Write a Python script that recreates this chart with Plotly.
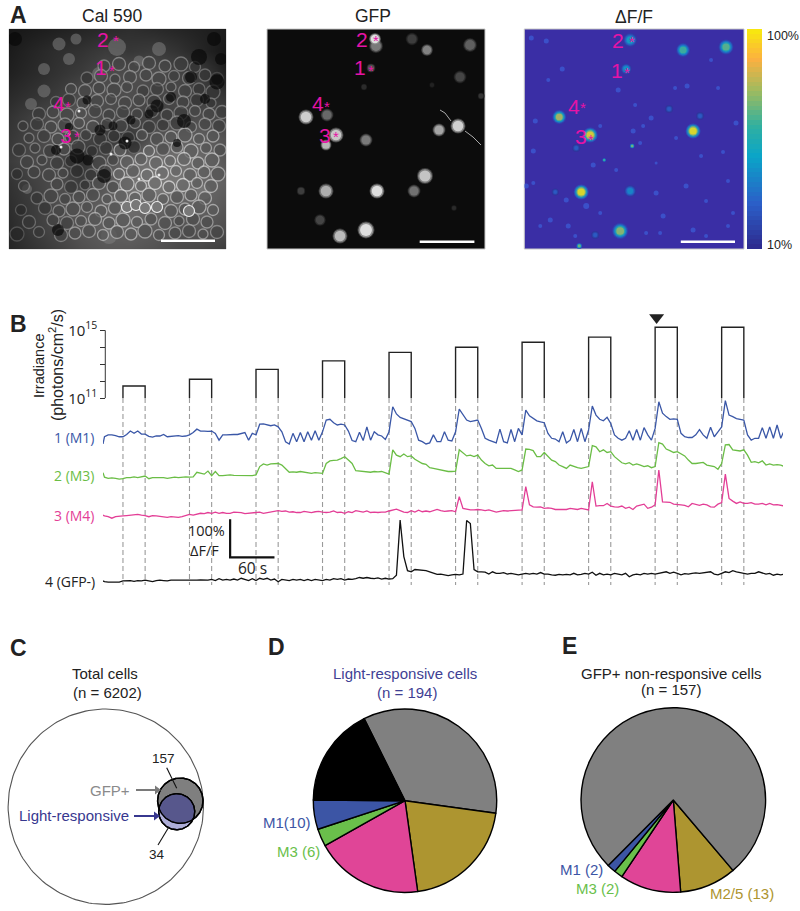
import numpy as np
import plotly.graph_objects as go

W, H = 800, 911
# ---------- Panel B data ----------
stim_on = [27, 117, 207, 297, 387, 477, 567, 657, 747, 837]
stim_len = 30
stim_log10 = [11.72, 12.12, 12.70, 13.20, 13.70, 14.00, 14.30, 14.60, 15.18, 15.18]
pre_t = [0, 2, 7, 12, 17, 22]

m1_pre = [-6, 13, 18, 18, 16, 13]
m1_cycles = [
 [13,19,28,22,28,20,20,14,12,15,15,19,13,14,15,16,14,15],
 [18,24,33,28,28,27,28,22,4,18,18,19,19,19,22,24,4,22],
 [18,46,47,44,42,44,39,26,0,-6,22,0,24,0,26,4,29,4],
 [26,57,59,50,44,46,44,28,3,0,25,3,39,4,26,18,15,6],
 [26,92,73,64,60,57,53,35,4,0,-6,-3,18,0,0,26,4,2],
 [26,86,70,57,53,55,57,35,9,4,0,-3,33,0,-3,32,0,35],
 [18,83,68,61,55,52,50,22,9,7,0,26,-3,4,32,0,35,0],
 [31,94,70,59,55,64,48,18,9,4,9,29,4,32,4,37,18,4],
 [35,105,75,66,59,60,59,22,13,11,11,18,32,18,9,38,13,26],
 [39,108,70,66,61,59,57,18,4,9,9,37,9,39,9,44,9,31],
]
m3_pre = [15, 3, 0, 1, 0, -2]
m3_cycles = [
 [-1,2,2,4,2,4,6,-1,2,2,2,2,0,2,3,2,3,4],
 [3,4,16,13,11,19,7,18,7,7,9,9,8,8,8,7,8,7],
 [9,31,38,35,38,38,39,35,24,16,17,16,18,16,15,13,15,13],
 [13,39,46,47,48,52,57,48,39,20,19,19,18,16,18,17,18,15],
 [11,75,61,57,64,57,59,50,44,39,37,28,26,24,20,18,18,18],
 [19,75,68,59,61,57,61,48,39,33,35,26,26,26,25,26,22,18],
 [22,77,76,73,57,57,68,59,48,44,35,31,26,35,31,28,26,28],
 [31,86,83,70,75,68,70,57,48,41,38,41,35,38,35,31,33,28],
 [31,94,90,77,73,68,70,64,59,48,39,39,41,42,35,33,31,24],
 [39,88,89,75,73,72,75,61,42,44,41,46,35,38,35,36,35,31],
]
m4_pre = [4, 2, 0, -4, 0, 2]
m4_cycles = [
 [2,3,4,4,6,4,3,0,3,2,0,-2,-2,0,-1,-2,0,4],
 [6,4,7,9,8,11,9,12,9,11,9,9,12,11,11,8,9,11],
 [11,12,9,11,12,15,16,14,15,12,13,11,11,14,12,11,13,14],
 [12,11,12,15,11,12,9,13,11,16,14,12,15,11,12,11,12,12],
 [15,18,20,16,12,11,16,12,17,13,15,13,16,19,16,14,15,16],
 [13,53,22,19,18,18,19,18,16,18,15,12,14,16,15,16,16,18],
 [18,79,31,26,25,26,22,23,22,19,19,20,19,22,20,19,22,19],
 [18,92,28,29,29,35,28,26,25,28,22,25,19,28,30,33,22,25],
 [31,123,39,39,38,33,33,31,30,26,35,33,30,33,31,26,25,33],
 [37,112,48,41,35,39,35,35,37,33,33,35,31,35,31,32,31,28],
]
neg_pre = [2, 0, -1, -1, 0, -1]
neg_cycles = [
 [2,2,3,1,3,2,4,2,0,3,4,3,2,4,4,3,4,4],
 [4,3,4,5,4,4,6,3,8,4,6,4,7,4,9,6,3,8],
 [3,9,6,9,4,7,0,6,4,3,6,4,6,3,6,3,6,4],
 [3,6,4,8,6,8,4,7,6,8,11,9,11,9,8,10,7,9],
 [7,8,17,162,66,29,26,32,31,29,29,26,22,19,20,18,16,18],
 [19,18,20,161,153,32,26,26,25,20,26,22,22,24,20,22,20,18],
 [20,22,20,22,20,24,20,20,18,17,19,18,19,18,22,18,19,22],
 [20,25,17,22,18,20,18,22,20,18,22,13,18,20,18,22,20,22],
 [20,22,22,26,22,25,22,18,21,20,22,23,22,24,25,26,20,18],
 [22,26,24,29,26,24,20,20,22,22,26,24,20,22,17,20,18,20],
]
trace_names = ["1 (M1)", "2 (M3)", "3 (M4)", "4 (GFP-)"]
trace_offsets = [390.3, 293.9, 192.9, 21.9]
trace_colors = ["#3a57a7", "#6abd45", "#e33e96", "#111111"]

# ---------- Panel A data (image pixel positions) ----------
cal_z = [
 [30,35,40,45,50,55,50,45,40,35],
 [35,45,55,60,70,65,70,60,45,30],
 [40,50,60,70,85,90,90,80,70,40],
 [50,60,70,90,90,90,80,85,70,60],
 [60,75,90,100,85,85,75,80,90,80],
 [65,80,95,80,70,60,100,110,110,95],
 [70,85,80,60,90,120,130,130,120,100],
 [60,75,90,70,100,130,140,135,120,110],
 [55,70,90,100,110,125,120,110,115,100],
 [50,70,85,100,110,115,105,95,100,90],
 [45,60,75,90,100,100,95,85,80,70],
]
cal_cells = [
 (95,37),(110,35),(125,38),(140,34),(156,37),(172,35),(186,38),
 (78,49),(92,47),(106,50),(121,48),(137,46),(150,50),(165,47),(180,49),(196,46),(208,50),
 (62,60),(76,62),(90,59),(105,61),(118,58),(134,62),(148,60),(162,58),(176,62),(190,60),(204,63),
 (47,73),(60,71),(74,74),(88,72),(102,70),(116,74),(130,71),(145,73),(160,70),(174,73),(188,71),(202,74),
 (30,85),(44,83),(58,86),(72,84),(86,82),(100,86),(114,83),(128,85),(143,82),(158,86),(172,84),(186,82),(200,85),(213,83),
 (14,97),(28,95),(42,98),(56,96),(70,94),(84,98),(98,95),(112,97),(126,94),(140,98),(154,96),(168,94),(182,98),(196,95),(210,97),
 (20,109),(35,107),(49,110),(63,108),(77,106),(91,110),(105,107),(119,109),(133,106),(148,110),(162,108),(176,106),(190,110),(204,107),
 (10,121),(26,119),(41,122),(55,120),(69,118),(83,122),(97,119),(111,121),(125,118),(140,122),(154,120),(168,118),(182,122),(197,119),(211,121),
 (18,133),(33,131),(48,134),(62,132),(90,134),(104,131),(118,133),(132,130),(147,134),(161,132),(175,130),(189,134),(203,131),
 (8,145),(25,143),(40,146),(54,144),(68,142),(82,146),(96,143),(110,145),(124,142),(138,146),(153,144),(167,142),(181,146),(195,143),(209,145),
 (15,157),(48,155),(62,158),(76,156),(90,154),(104,158),(118,155),(132,157),(146,154),(160,158),(174,156),(188,154),(202,157),
 (28,169),(42,167),(56,170),(70,168),(84,166),(98,170),(112,167),(126,169),(140,166),(154,170),(168,168),(182,166),(196,169),
 (12,181),(36,179),(50,182),(64,180),(78,178),(92,182),(106,179),(148,178),(162,182),(176,180),(190,178),(204,181),
 (20,193),(44,191),(58,194),(72,192),(86,190),(100,194),(114,191),(128,193),(142,190),(156,194),(170,192),(184,190),(198,193),
 (8,205),(30,203),(52,206),(66,204),(80,202),(94,206),(108,203),(122,205),(136,202),(150,206),(166,204),(180,202),(194,205),(208,203),
]
cal_cell_sizes = [12, 13, 11, 13, 12, 14, 11, 12, 13, 10, 13, 12, 14, 11, 13]
cal_pale_x = [67, 60, 90, 35, 22, 108, 195, 148, 100, 130, 18, 50, 35, 150]
cal_pale_y = [10, 30, 45, 62, 75, 18, 163, 178, 207, 32, 160, 15, 40, 20]
cal_pale_size = [11, 12, 14, 13, 12, 18, 15, 12, 16, 11, 10, 13, 12, 14]
cal_dark_x = [190, 182, 208, 148, 175, 78, 116, 104, 91, 68, 79, 47, 95, 122, 49, 168, 196, 60, 140, 162, 205, 6, 212]
cal_dark_y = [28, 48, 53, 77, 92, 71, 114, 97, 101, 127, 131, 121, 147, 91, 201, 114, 70, 98, 85, 68, 10, 10, 30]
cal_dark_size = [16, 12, 15, 13, 14, 9, 13, 9, 11, 15, 11, 10, 14, 9, 12, 8, 10, 8, 9, 10, 14, 14, 12]
ring_x = [118, 127, 136, 148, 180]
ring_y = [178, 176, 179, 178, 182]
spot_x = [130, 150, 118, 52, 70, 102, 60]
spot_y = [150, 146, 112, 118, 82, 125, 105]

gfp_x = [109, 108, 104, 97, 39, 60, 69, 59, 99, 34, 59, 110, 53, 73, 99, 145, 160, 203, 193, 165, 214, 172, 191, 158, 147, 187]
gfp_y = [17, 10, 39, 58, 88, 86, 106, 116, 111, 162, 162, 162, 191, 207, 201, 10, 21, 16, 48, 56, 67, 101, 97, 147, 162, 179]
gfp_size = [14, 12, 9, 7, 15, 13, 15, 11, 13, 9, 15, 15, 12, 15, 17, 13, 12, 14, 13, 6, 7, 13, 15, 16, 13, 6]
gfp_level = [140, 255, 90, 50, 235, 120, 230, 210, 140, 70, 200, 255, 80, 215, 255, 70, 150, 110, 80, 40, 60, 190, 240, 225, 130, 50]
gfp_process_x = [173, 178, 184, None, 198, 206, 214]
gfp_process_y = [81, 84, 92, None, 102, 108, 116]

df_x = [106, 159, 202, 102, 35, 66, 169, 57, 106, 96, 55, 108, 80, 52, 145, 176, 31, 71]
df_y = [11, 21, 18, 40, 88, 106, 102, 163, 162, 202, 217, 117, 131, 119, 80, 87, 163, 206]
df_size = [14, 14, 15, 11, 14, 15, 15, 15, 12, 16, 6, 5, 4, 8, 8, 8, 7, 8]
df_peak = [.45, .6, .65, .4, .8, .95, 1.0, 1.0, .35, .75, .7, .7, .6, .2, .2, .2, .2, .2]
dot_x = [38, 24, 94, 151, 163, 194, 187, 111, 127, 119, 109, 76, 11, 9, 69, 92, 132, 177, 199, 212, 152, 116, 7, 22, 2, 9, 132, 139, 182, 204, 62, 42, 76, 26, 44, 16, 136, 169, 182, 204, 162, 209, 122, 51]
dot_y = [40, 51, 61, 59, 57, 59, 31, 76, 89, 97, 102, 97, 92, 122, 136, 141, 134, 127, 123, 94, 109, 114, 9, 12, 157, 154, 164, 187, 172, 152, 177, 171, 184, 191, 197, 197, 204, 201, 207, 197, 157, 184, 204, 207]
dot_size = [5, 4, 5, 4, 5, 4, 4, 4, 5, 4, 5, 4, 5, 5, 5, 4, 3, 4, 4, 5, 4, 4, 5, 5, 5, 4, 5, 5, 4, 4, 6, 5, 4, 5, 5, 4, 4, 5, 4, 4, 5, 4, 4, 4]
parula = [[0, "#2e2c90"], [.2, "#2b5fc8"], [.42, "#0aa5c8"], [.56, "#30b0a0"], [.72, "#9cbb60"], [.87, "#fcb040"], [1, "#f8e610"]]
cbar_levels = list(range(10, 101, 2))

# ---------- Panels C, D, E data ----------
venn_x = [105.8, 180.3, 176.7]
venn_y = [181.7, 175.7, 186.7]
venn_r = [97.7, 22.7, 18.0]
pie_d_counts = [67, 40, 37, 6, 10, 34]
pie_d_colors = ["#808080", "#ad9530", "#e04597", "#6abf4b", "#3c55a5", "#000000"]
pie_e_counts = [13, 14, 2, 2, 100]
pie_e_colors = ["#ad9530", "#e04597", "#6abf4b", "#3c55a5", "#808080"]

# ---------- helpers ----------
SANS = "Liberation Sans"
OPEN = "Open Sans"
def fx(p): return p / W
def fy(p): return 1 - p / H
def dom_x(a, b): return [fx(a), fx(b)]
def dom_y(top, bot): return [fy(bot), fy(top)]

fig = go.Figure()
ann = []
def txt(x, y, s, size=15, color="#222222", anchor="center", font=SANS, angle=0):
    ann.append(dict(x=fx(x), y=fy(y), xref="paper", yref="paper", text=s, showarrow=False,
                    xanchor=anchor, yanchor="middle", textangle=angle,
                    font=dict(family=font, size=size, color=color)))
def lin(ax): return dict(visible=False, **ax)

# ---------- Cal 590 ----------
z = np.array(cal_z, float)
cal_xgrid = [0, 24, 48, 72, 96, 121, 145, 169, 193, 217]
cal_ygrid = [0, 22, 44, 66, 88, 110, 132, 154, 176, 198, 220]
fig.add_trace(go.Heatmap(z=cal_z, x=cal_xgrid, y=cal_ygrid, colorscale="Gray", zmin=0, zmax=255,
                         zsmooth="best", showscale=False, hoverinfo="skip", xaxis="x", yaxis="y"))
def zat(x, y):
    return z[min(int(round(y / 22)), 10), min(int(round(x / 24.1)), 9)]
cx = [c[0] for c in cal_cells]; cy = [c[1] for c in cal_cells]
def g(v):
    v = int(max(0, min(255, v))); return f"rgb({v},{v},{v})"
fig.add_trace(go.Scatter(x=cal_pale_x, y=cal_pale_y, mode="markers", xaxis="x", yaxis="y", hoverinfo="skip",
    marker=dict(size=cal_pale_size, color="rgb(125,125,125)", opacity=.55, line=dict(width=0))))
fig.add_trace(go.Scatter(x=cx, y=cy, mode="markers", xaxis="x", yaxis="y", hoverinfo="skip",
    marker=dict(size=[cal_cell_sizes[i % len(cal_cell_sizes)] for i in range(len(cx))],
                color=[g(zat(a, b) * .78) for a, b in cal_cells],
                line=dict(width=1.3, color=[g(zat(a, b) * 1.55 + 20) for a, b in cal_cells]))))
fig.add_trace(go.Scatter(x=cal_dark_x, y=cal_dark_y, mode="markers", xaxis="x", yaxis="y", hoverinfo="skip",
    marker=dict(size=cal_dark_size, color="rgb(8,8,8)", line=dict(width=0))))
fig.add_trace(go.Scatter(x=ring_x, y=ring_y, mode="markers", xaxis="x", yaxis="y", hoverinfo="skip",
    marker=dict(size=11, color="rgb(120,120,120)", line=dict(width=1.2, color="rgb(235,235,235)"))))
fig.add_trace(go.Scatter(x=spot_x, y=spot_y, mode="markers", xaxis="x", yaxis="y", hoverinfo="skip",
    marker=dict(size=3, color="rgb(235,235,235)", line=dict(width=0))))

# ---------- GFP ----------
fig.add_trace(go.Scatter(x=gfp_process_x, y=gfp_process_y, mode="lines", xaxis="x2", yaxis="y2", hoverinfo="skip",
    line=dict(color="rgb(170,170,170)", width=1)))
for fs, fc in [(1.0, .35), (.88, .7), (.7, 1.0)]:
    fig.add_trace(go.Scatter(x=gfp_x, y=gfp_y, mode="markers", xaxis="x2", yaxis="y2", hoverinfo="skip",
        marker=dict(size=[s * fs for s in gfp_size], color=[g(v * fc) for v in gfp_level], line=dict(width=0))))

# ---------- dF/F ----------
fig.add_trace(go.Scatter(x=dot_x, y=dot_y, mode="markers", xaxis="x3", yaxis="y3", hoverinfo="skip",
    marker=dict(size=dot_size, color="#3c5fd8", line=dict(width=0))))
for fs, fc in [(1.0, .16), (.88, .32), (.76, .52), (.62, .76), (.48, 1.0)]:
    fig.add_trace(go.Scatter(x=df_x, y=df_y, mode="markers", xaxis="x3", yaxis="y3", hoverinfo="skip",
        marker=dict(size=[s * fs for s in df_size], color=[10 + 90 * p * fc for p in df_peak],
                    coloraxis="coloraxis", line=dict(width=0))))
fig.add_trace(go.Heatmap(z=[[v, v] for v in cbar_levels], y=cbar_levels, x=[0, 1], coloraxis="coloraxis",
                         xaxis="x7", yaxis="y7", hoverinfo="skip"))
txt(765, 36, "100%", 12.5, anchor="left"); txt(765, 245, "10%", 12.5, anchor="left")

# ---------- Irradiance ----------
sx, sy = [], []
for t, v in zip(stim_on, stim_log10):
    sx += [t, t, t + stim_len, t + stim_len, None]
    sy += [1e11, 10 ** v, 10 ** v, 1e11, None]
fig.add_trace(go.Scatter(x=sx, y=sy, mode="lines", xaxis="x4", yaxis="y4", hoverinfo="skip",
    line=dict(color="#222222", width=1.4)))
fig.add_trace(go.Scatter(x=[3.1, 3.1], y=[1e11, 1e15], mode="lines", xaxis="x4", yaxis="y4", hoverinfo="skip",
    line=dict(color="#333333", width=1)))
fig.add_trace(go.Scatter(x=[749], y=[10 ** 15.76], mode="markers", xaxis="x4", yaxis="y4", cliponaxis=False, hoverinfo="skip",
    marker=dict(symbol="triangle-down", size=13, color="#222222", line=dict(width=0))))

# ---------- Traces ----------
dx, dy = [], []
for t in stim_on:
    for e in (t, t + stim_len):
        dx += [e, e, None]; dy += [505, 13, None]
fig.add_trace(go.Scatter(x=dx, y=dy, mode="lines", xaxis="x5", yaxis="y5", hoverinfo="skip",
    line=dict(color="#9a9a9a", width=1.1, dash="5px,3px")))
series = [(m1_pre, m1_cycles), (m3_pre, m3_cycles), (m4_pre, m4_cycles), (neg_pre, neg_cycles)]
for (pre, cyc), off, col in zip(series, trace_offsets, trace_colors):
    tt, vv = list(pre_t), list(pre)
    for on, c in zip(stim_on, cyc):
        tt += [on + 5 * j for j in range(len(c))]
        vv += c
    fig.add_trace(go.Scatter(x=tt, y=[off + v for v in vv], mode="lines", xaxis="x5", yaxis="y5", hoverinfo="skip",
                             line=dict(color=col, width=1.3)))
fig.add_trace(go.Scatter(x=[172, 172, 232], y=[186, 86, 86], mode="lines", xaxis="x5", yaxis="y5", hoverinfo="skip",
                         line=dict(color="#111111", width=2.2)))

# ---------- Venn ----------
th = np.linspace(0, 2 * np.pi, 181)
def circ(i):
    return venn_x[i] + venn_r[i] * np.cos(th), venn_y[i] + venn_r[i] * np.sin(th)
def poly(x, y, fill, line, w):
    fig.add_trace(go.Scatter(x=list(x), y=list(y), mode="lines", fill="toself" if fill else None, fillcolor=fill,
                             xaxis="x6", yaxis="y6", hoverinfo="skip", line=dict(color=line, width=w)))
poly(*circ(0), None, "#555555", 1.1)
poly(*circ(1), "#7f7f7f", "#000000", 1.4)
poly(*circ(2), "#aeaed8", "#000000", 1.4)
ax_, ay_ = circ(1); bx_, by_ = circ(2)
pts = [(a, b) for a, b in zip(bx_, by_) if np.hypot(a - venn_x[1], b - venn_y[1]) <= venn_r[1]]
pts += [(a, b) for a, b in zip(ax_, ay_) if np.hypot(a - venn_x[2], b - venn_y[2]) <= venn_r[2]]
lc = np.mean(pts, axis=0)
pts.sort(key=lambda p: np.arctan2(p[1] - lc[1], p[0] - lc[0]))
pts.append(pts[0])
poly([p[0] for p in pts], [p[1] for p in pts], "#57578c", "#000000", .8)
poly(*circ(2), None, "#000000", 1.4)
poly(*circ(1), None, "#000000", 1.4)
def leader(x, y, col, w, head):
    fig.add_trace(go.Scatter(x=x, y=y, mode="lines", xaxis="x6", yaxis="y6", hoverinfo="skip", line=dict(color=col, width=w)))
    if head:
        fig.add_trace(go.Scatter(x=x[-1:], y=y[-1:], mode="markers", xaxis="x6", yaxis="y6", hoverinfo="skip",
                                 marker=dict(symbol="triangle-right", size=8, color=col, line=dict(width=0))))
leader([136, 157], [165, 165], "#7a7a7a", 2, True)
leader([134, 156], [191, 191], "#37378f", 2, True)
leader([166.7, 176.7], [142.7, 163.3], "#111111", 1.1, False)
leader([158, 169], [220, 201.7], "#111111", 1.1, False)

# ---------- Pies ----------
def pie(vals, cols, rot, cx_, cy_, r):
    fig.add_trace(go.Pie(values=vals, marker=dict(colors=cols, line=dict(color="#000000", width=1.4)),
                         sort=False, direction="clockwise", rotation=rot, textinfo="none", hoverinfo="skip",
                         domain=dict(x=dom_x(cx_ - r, cx_ + r), y=dom_y(cy_ - r, cy_ + r)), showlegend=False))
pie(pie_d_counts, pie_d_colors, 333.5, 405, 800.7, 91.7)
pie(pie_e_counts, pie_e_colors, 139.7, 673.3, 800, 92.3)

# ---------- text ----------
for s, x, y in [("A", 18, 15), ("B", 18, 324), ("C", 18, 648), ("D", 276, 647), ("E", 569, 646)]:
    txt(x, y, f"<b>{s}</b>", size=23)
txt(112, 16, "Cal 590", 17.5); txt(373, 16, "GFP", 17.5); txt(633.5, 17, "ΔF/F", 17.5)
MAG = "#e613a6"
for nums, stars in [
    ([("2", 103, 39), ("1", 101, 68), ("4", 59, 104), ("3", 66, 135)], [(116, 41), (112, 71), (68, 106), (77, 137)]),
    ([("2", 362, 39), ("1", 360, 68), ("4", 318, 104), ("3", 325, 135)], [(376, 41), (371, 71), (327, 106), (336, 137)]),
    ([("2", 618, 41), ("1", 617, 70), ("4", 574, 106), ("3", 581, 137)], [(632, 42), (627, 72), (583, 108), (591, 139)]),
]:
    for (s, x, y), (sx_, sy_) in zip(nums, stars):
        txt(x, y, s, 21, MAG)
        txt(sx_, sy_, "*", 15, MAG)
for xa, ya, xs, yy in [("x", "y", [152, 206], 211.7), ("x2", "y2", [152.7, 207.4], 212.7), ("x3", "y3", [156.7, 211], 212.7)]:
    fig.add_trace(go.Scatter(x=xs, y=[yy, yy], mode="lines", xaxis=xa, yaxis=ya, hoverinfo="skip",
                             line=dict(color="#ffffff", width=2.4)))

txt(39, 366, "Irradiance", 14.5, angle=-90)
txt(56, 365, "(photons/cm<sup>2</sup>/s)", 16, angle=-90)
for name, y, col in zip(trace_names, [437, 475, 515, 581], ["#3a57a7", "#6abd45", "#e33e96", "#222222"]):
    txt(97, y, name, 14, col, anchor="right", font=OPEN)
txt(206, 530, "100%", 14.5, font=OPEN); txt(204, 550, "ΔF/F", 14.5, font=OPEN)
txt(253, 568, "60 s", 15.5, font=OPEN)

txt(105, 673, "Total cells"); txt(107, 692, "(n = 6202)")
txt(163, 758, "157", 13.5); txt(157, 854, "34", 13.5)
txt(110, 790, "GFP+", 15, "#8a8a8a")
txt(74, 815, "Light-responsive", 15, "#37378f")
txt(405, 673, "Light-responsive cells", 15, "#3f3f94"); txt(407, 692, "(n = 194)", 15, "#3f3f94")
txt(313, 822, "M1(10)", 15, "#3c55a5", anchor="right")
txt(322, 851, "M3 (6)", 15, "#6abf4b", anchor="right")
txt(671, 673, "GFP+ non-responsive cells"); txt(671, 689, "(n = 157)")
txt(581, 869, "M1 (2)", 15, "#3c55a5"); txt(597, 888, "M3 (2)", 15, "#6abf4b"); txt(742, 893, "M2/5 (13)", 15, "#ad9530")

# ---------- layout ----------
def panel_rect(xn, fill):
    return dict(type="rect", xref=f"{xn} domain", yref=f"{xn.replace('x','y')} domain", x0=0, x1=1, y0=0, y1=1,
                fillcolor=fill, line=dict(color="#c8c8c8", width=1), layer="below")
layout = dict(
    width=W, height=H, margin=dict(l=0, r=0, t=0, b=0, autoexpand=False), paper_bgcolor="white", plot_bgcolor="rgba(0,0,0,0)",
    showlegend=False, annotations=ann,
    xaxis=lin(dict(domain=dom_x(9, 226), range=[0, 217])),
    yaxis=lin(dict(domain=dom_y(29, 249), range=[220, 0])),
    xaxis2=lin(dict(domain=dom_x(267, 485), range=[0, 218])),
    yaxis2=lin(dict(domain=dom_y(29, 249), range=[220, 0])),
    xaxis3=lin(dict(domain=dom_x(524.3, 744), range=[0, 220])),
    yaxis3=lin(dict(domain=dom_y(29, 249), range=[220, 0])),
    xaxis4=lin(dict(domain=dom_x(103, 783), range=[0, 920], anchor="y4")),
    yaxis4=dict(domain=dom_y(313.3, 398.3), type="log", range=[11, 16], anchor="free", position=fx(105.3), side="left",
                showgrid=False, zeroline=False, showline=False,
                ticks="outside", ticklen=5, tickcolor="#333333", tickwidth=1,
                tickvals=[1e11, 1e15], ticktext=["10<sup>11</sup>", "10<sup>15</sup>"],
                minor=dict(tickvals=[1e12, 1e13, 1e14], ticks="outside", ticklen=5, tickcolor="#333333", tickwidth=1),
                tickfont=dict(family=OPEN, size=15, color="#222222")),
    xaxis5=lin(dict(domain=dom_x(103, 783), range=[0, 920], anchor="y5")),
    yaxis5=lin(dict(domain=dom_y(395, 590), range=[0, 513.2], anchor="x5")),
    xaxis6=lin(dict(domain=dom_x(0, 220), range=[0, 220], anchor="y6")),
    yaxis6=lin(dict(domain=dom_y(625, 905), range=[280, 0], anchor="x6")),
    xaxis7=lin(dict(domain=dom_x(747, 762), range=[-.5, 1.5], anchor="y7")),
    yaxis7=lin(dict(domain=dom_y(29, 249), range=[9, 101], anchor="x7")),
    shapes=[panel_rect("x", "#1a1a1a"), panel_rect("x2", "#0c0c0c"), panel_rect("x3", "#3a2ea5")],
    coloraxis=dict(colorscale=parula, cmin=10, cmax=100, showscale=False),
)
fig.update_layout(**layout)
fig.write_html("out.html", include_plotlyjs=True, config=dict(displayModeBar=False),
               post_script="document.body.style.margin='0';document.body.style.overflow='hidden';")
